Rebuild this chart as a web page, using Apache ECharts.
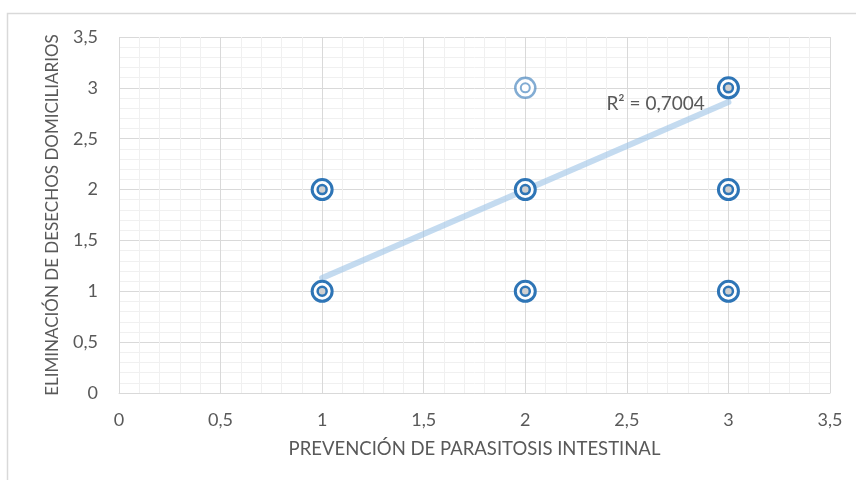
<!DOCTYPE html>
<html>
<head>
<meta charset="utf-8">
<script src="https://cdn.jsdelivr.net/npm/echarts@6/dist/echarts.min.js"></script>
<style>
  html, body { margin: 0; padding: 0; background: #fff; }
  #main { width: 856px; height: 480px; }
</style>
</head>
<body>
<div id="main"></div>
<script>
// puntos observados (los repetidos se ven más oscuros)
const points = [[1, 1], [1, 2], [2, 1], [2, 2], [3, 1], [3, 2], [3, 3]];
// punto con una sola observación (más claro)
const faintPoints = [[2, 3]];
// línea de tendencia
const trendLine = [[1, 1.13], [3, 2.86]];
const r2Label = "R² = 0,7004";
const xName = "PREVENCIÓN DE PARASITOSIS INTESTINAL";
const yName = "ELIMINACIÓN DE DESECHOS DOMICILIARIOS";

const blue = "#2e75b6";
const faintBlue = "rgba(46,117,182,0.6)";
const font = "Lato";

const myChart = echarts.init(document.getElementById("main"));

const fmt = (v) => String(v).replace(".", ",");

const ringSeries = (data, color, size, width, fill, z) => ({
  type: "scatter",
  data: data,
  symbol: "circle",
  symbolSize: size,
  z: z,
  silent: true,
  itemStyle: {
    color: fill,
    borderColor: color,
    borderWidth: width,
    opacity: 1,
  },
});

const option = {
  animation: false,
  textStyle: { fontFamily: font },
  graphic: [
    {
      type: "rect",
      shape: { x: 7.5, y: 13.5, width: 900, height: 500 },
      style: { fill: "none", stroke: "#d9d9d9", lineWidth: 1.5 },
      silent: true,
    },
  ],
  grid: { left: 119, right: 26, top: 37, bottom: 87 },
  xAxis: {
    type: "value",
    min: 0,
    max: 3.5,
    interval: 0.5,
    name: xName,
    nameLocation: "middle",
    nameGap: 47,
    nameTextStyle: { color: "#595959", fontSize: 18.5, fontFamily: font },
    axisLine: { show: true, lineStyle: { color: "#d9d9d9" } },
    axisTick: { show: false },
    axisLabel: { color: "#595959", fontSize: 18, margin: 18, formatter: fmt },
    splitLine: { show: true, lineStyle: { color: "#d9d9d9" } },
    minorTick: { show: false, splitNumber: 5 },
    minorSplitLine: { show: true, lineStyle: { color: "#f0f0f0" } },
  },
  yAxis: {
    type: "value",
    min: 0,
    max: 3.5,
    interval: 0.5,
    name: yName,
    nameLocation: "middle",
    nameGap: 58,
    nameTextStyle: { color: "#595959", fontSize: 17, fontFamily: font },
    axisLine: { show: false },
    axisTick: { show: false },
    axisLabel: { color: "#595959", fontSize: 18, margin: 21, formatter: fmt },
    splitLine: { show: true, lineStyle: { color: "#d9d9d9" } },
    minorTick: { show: false, splitNumber: 5 },
    minorSplitLine: { show: true, lineStyle: { color: "#f0f0f0" } },
  },
  series: [
    {
      type: "line",
      data: trendLine,
      symbol: "none",
      z: 1,
      silent: true,
      lineStyle: { color: "rgba(157,195,230,0.6)", width: 6, cap: "round" },
      endLabel: {
        show: true,
        formatter: r2Label,
        color: "#595959",
        fontSize: 19,
        fontFamily: font,
        distance: 0,
        offset: [-122, 2],
      },
    },
    ringSeries(points, blue, 20, 3, "rgba(255,255,255,0.9)", 3),
    ringSeries(points, blue, 9, 2.5, "#d0d0d0", 4),
    ringSeries(faintPoints, faintBlue, 20, 2.5, "rgba(255,255,255,0.9)", 3),
    ringSeries(faintPoints, faintBlue, 9, 2, "#ffffff", 4),
  ],
};

myChart.setOption(option);
</script>
</body>
</html>
